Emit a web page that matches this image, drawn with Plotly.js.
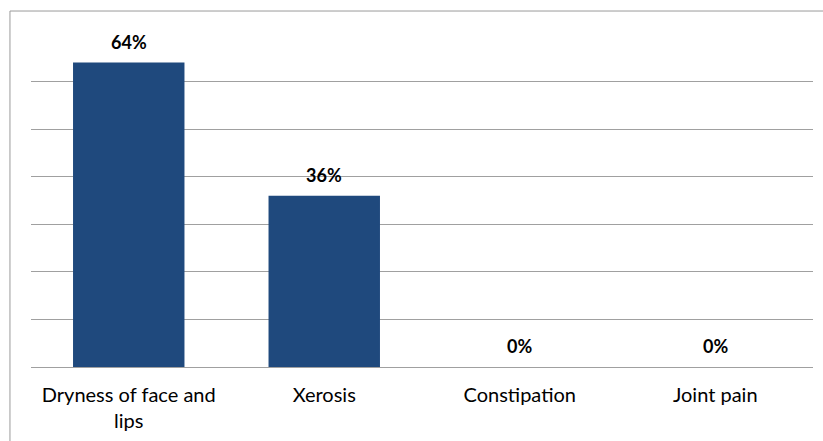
<!DOCTYPE html>
<html>
<head>
<meta charset="utf-8">
<script src="https://cdn.plot.ly/plotly-3.0.1.min.js"></script>
<style>html,body{margin:0;padding:0;background:#fff;}#chart{width:823px;height:441px;}</style>
</head>
<body>
<div id="chart"></div>
<script>
var categories = ["Dryness of face and<br>lips", "Xerosis", "Constipation", "Joint pain"];
var values = [64, 36, 0, 0];
var valueLabels = ["64%", "36%", "0%", "0%"];

var trace = {
  type: "bar",
  x: categories,
  y: values,
  marker: {color: "#1F497D", line: {width: 0}},
  hoverinfo: "skip"
};

var annotations = categories.map(function (c, i) {
  return {
    x: c, y: values[i], xref: "x", yref: "y",
    text: "<b>" + valueLabels[i] + "</b>",
    showarrow: false, yanchor: "bottom", yshift: 8,
    font: {family: "Lato, 'Open Sans', sans-serif", size: 18, color: "#000"}
  };
});

var layout = {
  width: 823, height: 441,
  margin: {l: 31, r: 10, t: 34, b: 74},
  paper_bgcolor: "#fff", plot_bgcolor: "#fff",
  showlegend: false,
  bargap: 0.43,
  xaxis: {
    type: "category",
    showgrid: false, zeroline: false, showline: false,
    ticks: "", ticklabelstandoff: 14,
    tickfont: {family: "Lato, 'Open Sans', sans-serif", size: 20, color: "#000"}
  },
  yaxis: {
    range: [0, 70], dtick: 10, tick0: 0,
    showgrid: true, gridcolor: "#a0a0a0", gridwidth: 1,
    zeroline: true, zerolinecolor: "#a0a0a0", zerolinewidth: 1,
    showline: false, showticklabels: false, ticks: ""
  },
  annotations: annotations,
  shapes: [
    {type: "line", xref: "paper", yref: "paper", x0: -0.0269, x1: 1.1, y0: 1.069, y1: 1.069,
     line: {color: "#9a9a9a", width: 1}},
    {type: "line", xref: "paper", yref: "paper", x0: -0.0269, x1: -0.0269, y0: 1.069, y1: -0.3,
     line: {color: "#9a9a9a", width: 1}}
  ]
};

Plotly.newPlot("chart", [trace], layout, {displayModeBar: false, staticPlot: true});
</script>
</body>
</html>
